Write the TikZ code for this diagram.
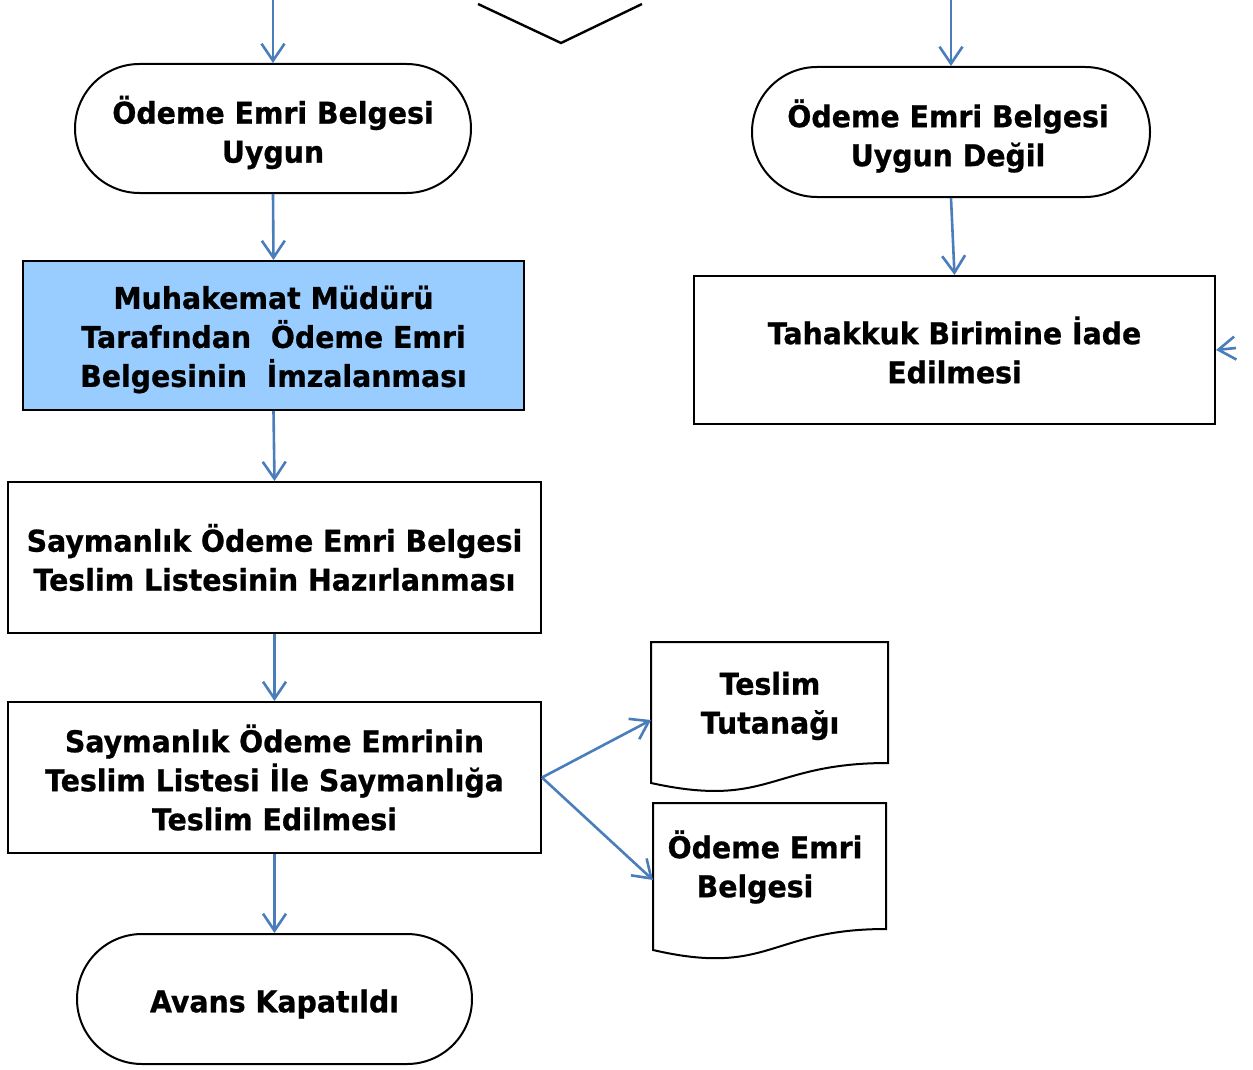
\documentclass[tikz,border=0pt]{standalone}
\usepackage{fontspec}
\setmainfont[FakeStretch=0.945,BoldFeatures={FakeBold=0.8}]{DejaVu Sans}
\usetikzlibrary{shapes.misc,arrows.meta}
\definecolor{arr}{RGB}{74,126,187}
\definecolor{fillb}{RGB}{153,204,255}
\begin{document}
\begin{tikzpicture}[x=0.5pt,y=-0.5pt,
  every node/.style={font=\bfseries\fontsize{15}{19.5}\selectfont, align=center, inner sep=0pt},
  term/.style={draw, line width=1pt, rounded rectangle},
  proc/.style={draw, line width=1pt, rectangle},
  docframe/.style={draw, line width=1pt},
  conn/.style={draw=arr, line width=1.3pt, -{Straight Barb[length=8.5pt,width=11.5pt]}},
  ]
\useasboundingbox (0,0) rectangle (1253,1070);

% left column
\node[term, minimum width=198pt, minimum height=64.5pt] (t1) at (273,128.5) {};
\node (t1text) at ([yshift=-2pt]t1.center) {Ödeme Emri Belgesi\\Uygun};
\node[proc, fill=fillb, minimum width=250.5pt, minimum height=74.5pt] (p1) at (273.5,335.5) {};
\node (p1text) at ([yshift=-2pt]p1.center) {Muhakemat Müdürü\\Tarafından\ \ Ödeme Emri\\Belgesinin\ \ İmzalanması};
\node[proc, minimum width=266.5pt, minimum height=75.5pt] (p2) at (274.5,557.5) {Saymanlık Ödeme Emri Belgesi\\Teslim Listesinin Hazırlanması};
\node[proc, minimum width=266.5pt, minimum height=75.5pt] (p3) at (274.5,777.5) {Saymanlık Ödeme Emrinin\\Teslim Listesi İle Saymanlığa\\Teslim Edilmesi};
\node[term, minimum width=197.5pt, minimum height=65pt] (t2) at (274.5,999) {};
\node (t2text) at ([yshift=-2.5pt]t2.center) {Avans Kapatıldı};

% right column
\node[term, minimum width=199pt, minimum height=65pt] (t3) at (951,132) {};
\node (t3text) at ([xshift=-1.5pt,yshift=-2pt]t3.center) {Ödeme Emri Belgesi\\Uygun Değil};
\node[proc, minimum width=260.5pt, minimum height=74pt] (p4) at (954.5,350) {Tahakkuk Birimine İade\\Edilmesi};

% partial diamond at top
\draw[line width=1.2pt] (478,4) -- (561,43) -- (642,4);

% documents
\draw[docframe] (651,642) -- (888,642) -- (888,763) .. controls (769.5,763) and (769.5,809) .. (651,783) -- cycle;
\node (d1) at (770,706) {Teslim\\Tutanağı};
\draw[docframe] (653,803) -- (886,803) -- (886,929) .. controls (769.5,929) and (769.5,977) .. (653,950) -- cycle;
\node (d2) at (765,867) {Ödeme Emri\\Belgesi\hspace*{10pt}};
\coordinate (d1in) at (651,720);
\coordinate (d2in) at (653,880);

% connectors
\coordinate (inL) at (273,0);
\coordinate (inR) at (951,0);
\coordinate (inE) at (1236,348);
\draw[conn] (inL) -- (t1.north);
\draw[conn] (t1.south) -- (p1.north);
\draw[conn] (p1.south) -- (p2.north);
\draw[conn] (p2.south) -- (p3.north);
\draw[conn] (p3.south) -- (t2.north);
\draw[conn] (inR) -- (t3.north);
\draw[conn] (t3.south) -- (p4.north);
\draw[conn] (inE) -- (p4.east);
\draw[conn] (p3.east) -- (d1in);
\draw[conn] (p3.east) -- (d2in);
\end{tikzpicture}
\end{document}
